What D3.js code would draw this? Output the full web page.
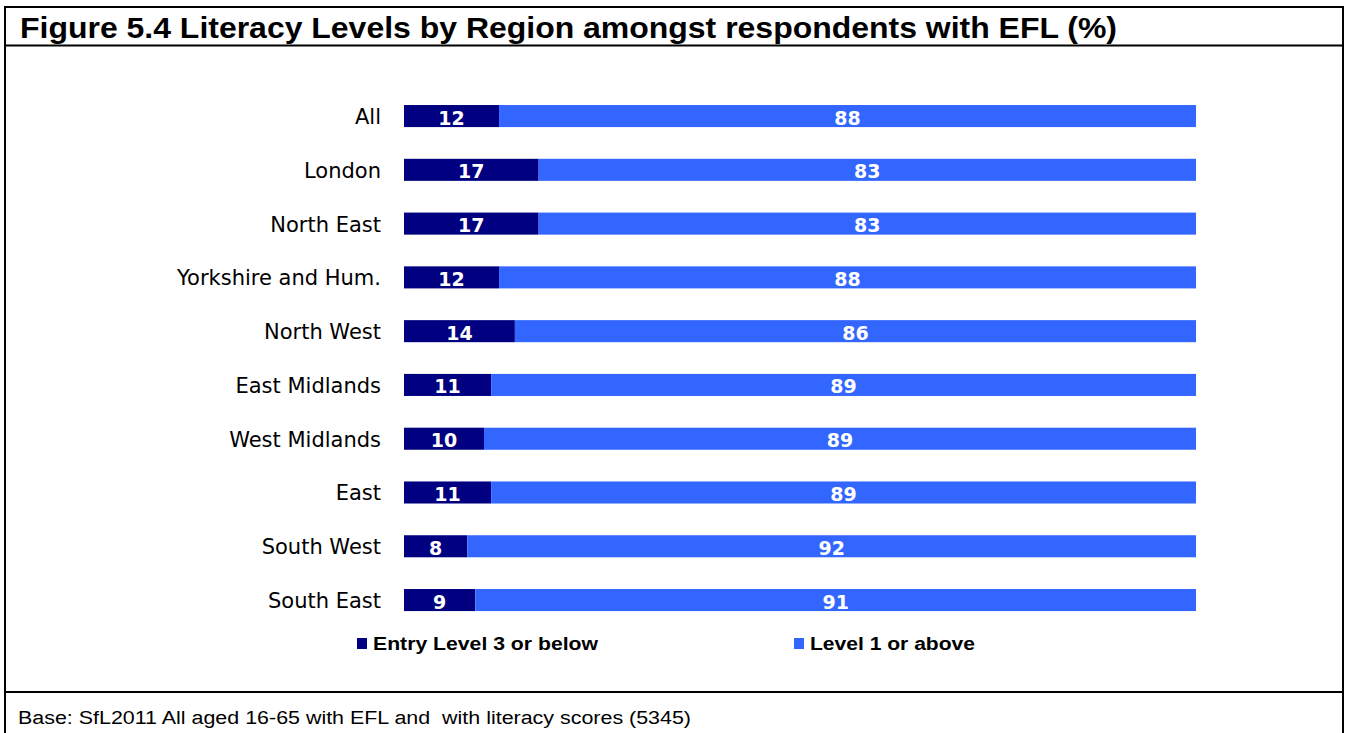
<!DOCTYPE html>
<html>
<head>
<meta charset="utf-8">
<script src="https://cdn.jsdelivr.net/npm/d3@7"></script>
<style>
  html, body { margin: 0; padding: 0; background: #ffffff; }
  svg { display: block; }
  text { white-space: pre; }
</style>
</head>
<body>
<svg id="chart" width="1349" height="733"></svg>
<script>
const title = "Figure 5.4 Literacy Levels by Region amongst respondents with EFL (%)";
const footer = "Base: SfL2011 All aged 16-65 with EFL and  with literacy scores (5345)";
const categories = ["All", "London", "North East", "Yorkshire and Hum.", "North West",
  "East Midlands", "West Midlands", "East", "South West", "South East"];
const seriesNames = ["Entry Level 3 or below", "Level 1 or above"];
const entryLevel3 = [12, 17, 17, 12, 14, 11, 10, 11, 8, 9];
const level1 = [88, 83, 83, 88, 86, 89, 89, 89, 92, 91];
const colors = ["#000080", "#3366FF"];

const rows = categories.map((c, i) => ({ cat: c, s0: entryLevel3[i], s1: level1[i] }));

const svg = d3.select("#chart");

// frame
svg.append("rect").attr("x", 5).attr("y", 7).attr("width", 1338).attr("height", 740)
  .attr("fill", "none").attr("stroke", "#000").attr("stroke-width", 2);
svg.append("line").attr("x1", 5).attr("x2", 1343).attr("y1", 45.5).attr("y2", 45.5)
  .attr("stroke", "#000").attr("stroke-width", 2);
svg.append("line").attr("x1", 5).attr("x2", 1343).attr("y1", 692).attr("y2", 692)
  .attr("stroke", "#000").attr("stroke-width", 2);

svg.append("text").attr("x", 20).attr("y", 38)
  .attr("font-family", "Liberation Sans, Arial, sans-serif").attr("font-weight", "bold")
  .attr("font-size", 29).attr("textLength", 1097).attr("lengthAdjust", "spacingAndGlyphs")
  .attr("fill", "#000").text(title);

svg.append("text").attr("x", 18).attr("y", 724)
  .attr("font-family", "Liberation Sans, Arial, sans-serif")
  .attr("font-size", 18).attr("textLength", 673).attr("lengthAdjust", "spacingAndGlyphs")
  .attr("xml:space", "preserve")
  .attr("fill", "#000").text(footer);

// scales
const x = d3.scaleLinear().domain([0, 1]).range([404, 1196]);
const y = d3.scaleBand().domain(categories).range([73.3, 642.8]).padding(0.59);

const stack = d3.stack().keys(["s0", "s1"]).offset(d3.stackOffsetExpand);
const series = stack(rows);

const g = svg.append("g");
series.forEach((s, si) => {
  const sg = g.append("g").attr("fill", colors[si]);
  sg.selectAll("rect").data(s).join("rect")
    .attr("x", d => x(d[0]))
    .attr("y", d => y(d.data.cat))
    .attr("width", d => x(d[1]) - x(d[0]))
    .attr("height", y.bandwidth());
  g.append("g").selectAll("text").data(s).join("text")
    .attr("x", d => (x(d[0]) + x(d[1])) / 2)
    .attr("y", d => y(d.data.cat) + y.bandwidth() / 2 + 8.5)
    .attr("text-anchor", "middle")
    .attr("font-family", "DejaVu Sans, Verdana, sans-serif")
    .attr("font-weight", "bold").attr("font-size", 19)
    .attr("fill", "#ffffff")
    .text(d => d.data[si === 0 ? "s0" : "s1"]);
});

// category axis
const yAxis = d3.axisLeft(y).tickSize(0).tickPadding(0);
const ag = svg.append("g").attr("transform", "translate(381,0)").call(yAxis);
ag.select(".domain").remove();
ag.selectAll("text")
  .attr("font-family", "DejaVu Sans, Verdana, sans-serif")
  .attr("font-size", 21).attr("fill", "#000")
  .attr("dy", "0.38em");

// legend
const legendX = [357, 794];
const legendLen = [225, 165];
seriesNames.forEach((n, i) => {
  svg.append("rect").attr("x", legendX[i]).attr("y", 638).attr("width", 10).attr("height", 11)
    .attr("fill", colors[i]);
  svg.append("text").attr("x", legendX[i] + 16).attr("y", 650)
    .attr("font-family", "Liberation Sans, Arial, sans-serif").attr("font-weight", "bold")
    .attr("font-size", 18).attr("textLength", legendLen[i]).attr("lengthAdjust", "spacingAndGlyphs")
    .attr("fill", "#000").text(n);
});
</script>
</body>
</html>
